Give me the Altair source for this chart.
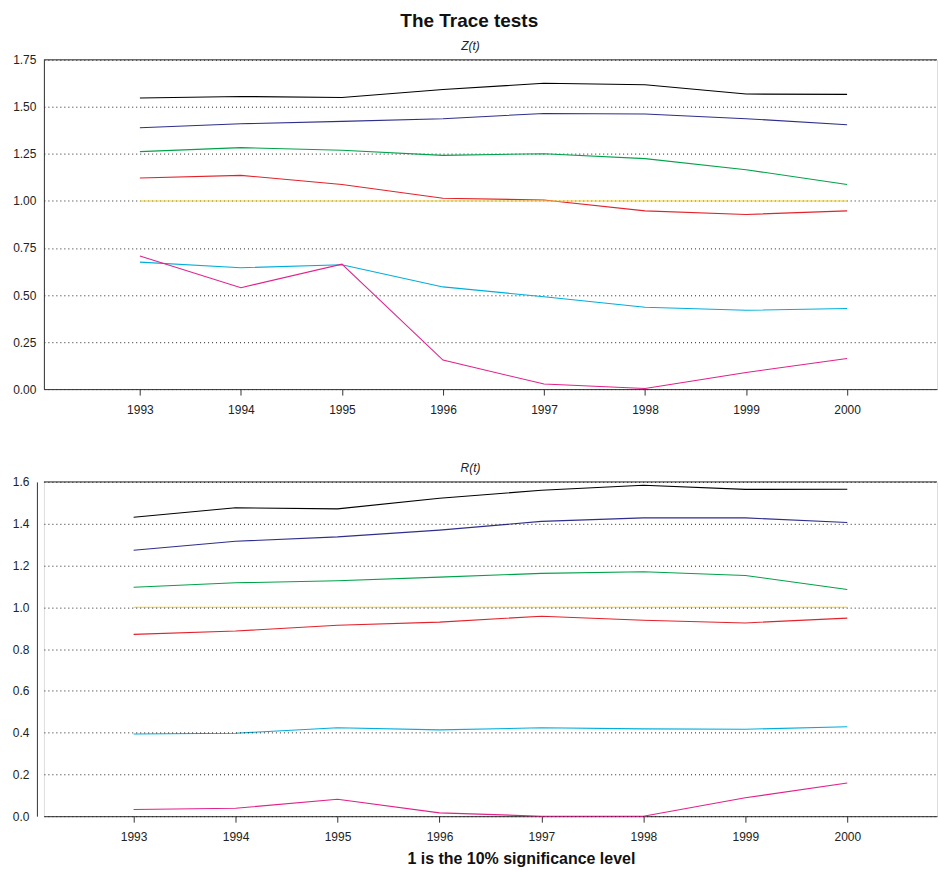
import altair as alt
import pandas as pd

years = [1993, 1994, 1995, 1996, 1997, 1998, 1999, 2000]

series_names = ["s1", "s2", "s3", "s4", "s5", "s6", "ref"]
series_colors = ["#000000", "#2E2E8C", "#00A24A", "#E3222B", "#00AEDB", "#E2218A", "#F2CF2E"]

# Z(t) panel
z_s1 = [1.547, 1.555, 1.550, 1.592, 1.625, 1.617, 1.568, 1.566]
z_s2 = [1.389, 1.410, 1.423, 1.437, 1.465, 1.462, 1.437, 1.405]
z_s3 = [1.262, 1.283, 1.269, 1.242, 1.251, 1.225, 1.166, 1.087]
z_s4 = [1.122, 1.136, 1.087, 1.014, 1.005, 0.947, 0.928, 0.947]
z_s5 = [0.675, 0.645, 0.661, 0.543, 0.491, 0.435, 0.419, 0.428]
z_s6 = [0.707, 0.539, 0.664, 0.154, 0.027, 0.003, 0.088, 0.163]
z_ref = [1, 1, 1, 1, 1, 1, 1, 1]

# R(t) panel
r_s1 = [1.431, 1.476, 1.471, 1.522, 1.560, 1.584, 1.564, 1.565]
r_s2 = [1.273, 1.316, 1.337, 1.369, 1.411, 1.428, 1.428, 1.406]
r_s3 = [1.096, 1.117, 1.127, 1.144, 1.162, 1.170, 1.152, 1.085]
r_s4 = [0.870, 0.886, 0.914, 0.929, 0.957, 0.938, 0.925, 0.948]
r_s5 = [0.393, 0.397, 0.423, 0.413, 0.423, 0.418, 0.416, 0.428]
r_s6 = [0.032, 0.038, 0.081, 0.016, 0.000, 0.000, 0.088, 0.159]
r_ref = [1, 1, 1, 1, 1, 1, 1, 1]

z_ticks = [0, 0.25, 0.5, 0.75, 1.0, 1.25, 1.5, 1.75]
r_ticks = [0, 0.2, 0.4, 0.6, 0.8, 1.0, 1.2, 1.4, 1.6]

z_xdomain = [1992.05, 2000.89]
r_xdomain = [1992.12, 2000.88]

FONT = "Liberation Sans"


def long_df(cols):
    rows = []
    for name, vals in zip(series_names, cols):
        for y, v in zip(years, vals):
            rows.append({"year": y, "value": v, "series": name})
    return pd.DataFrame(rows)


z_df = long_df([z_s1, z_s2, z_s3, z_s4, z_s5, z_s6, z_ref])
r_df = long_df([r_s1, r_s2, r_s3, r_s4, r_s5, r_s6, r_ref])

color = alt.Color("series:N", scale=alt.Scale(domain=series_names, range=series_colors), legend=None)


def panel(df, ticks, fmt, top, xdomain, width, height, extent, yoffset, title,
          xtitle=None, grid_on_top=False):
    xaxis = alt.Axis(values=years, format="d", tickSize=6, tickColor="#333", domainColor="#333",
                     labelFontSize=12, labelFont=FONT, labelColor="#222", labelPadding=9,
                     grid=False, title=xtitle if xtitle else None,
                     titleFont=FONT, titleFontSize=16, titleFontWeight="bold", titleColor="#111",
                     titlePadding=8, titleX=478 if xtitle else alt.Undefined)
    yaxis = alt.Axis(values=ticks, format=fmt, ticks=False, domainColor="#333",
                     labelFontSize=12, labelFont=FONT, labelColor="#222", labelPadding=8,
                     grid=True, gridColor="#222", gridDash=[1, 3], gridWidth=1,
                     offset=yoffset, minExtent=extent, maxExtent=extent, title=None,
                     zindex=1 if grid_on_top else 0)
    lines = alt.Chart(df).mark_line(strokeWidth=1.1).encode(
        x=alt.X("year:Q", scale=alt.Scale(domain=xdomain, nice=False, zero=False), axis=xaxis),
        y=alt.Y("value:Q", scale=alt.Scale(domain=[0, top], nice=False, zero=True), axis=yaxis),
        color=color,
        detail="series:N",
    )
    top_rule = alt.Chart(pd.DataFrame({"v": [top]})).mark_rule(color="#333", strokeWidth=1).encode(
        y=alt.Y("v:Q", scale=alt.Scale(domain=[0, top], nice=False))
    )
    return alt.layer(lines, top_rule).properties(
        width=width, height=height,
        title=alt.TitleParams(title, font=FONT, fontSize=12, fontStyle="italic", fontWeight="normal",
                              color="#222", anchor="middle", dx=-20, offset=1),
    )


top_panel = panel(z_df, z_ticks, ".2f", 1.75, z_xdomain, 895, 330, 43, 0, "Z(t)")
bottom_panel = panel(r_df, r_ticks, ".1f", 1.6, r_xdomain, 895, 335, 36, 7, "R(t)",
                     xtitle="1 is the 10% significance level", grid_on_top=True)

chart = alt.vconcat(top_panel, bottom_panel, spacing=45).properties(
    title=alt.TitleParams("The Trace tests", font=FONT, fontSize=19, fontWeight="bold",
                          color="#111", anchor="middle", offset=8),
    padding={"left": 0, "top": 11, "right": 0, "bottom": 0},
).configure_view(stroke=None).configure(background="white")

chart.save("out.html", embed_options={"renderer": "svg", "actions": False})
